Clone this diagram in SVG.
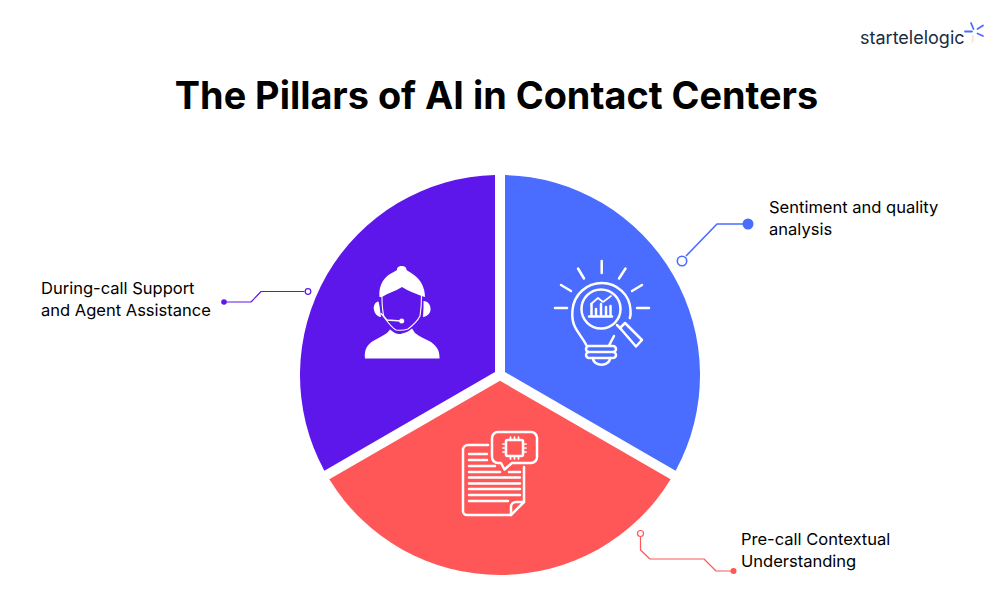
<svg xmlns="http://www.w3.org/2000/svg" width="1000" height="600" viewBox="0 0 1000 600">
<style>
text{font-family:Inter,"Liberation Sans",sans-serif;fill:#000}
.label{font-size:16.520px;font-weight:400}
.ic{fill:none;stroke:#fff;stroke-width:2.500;stroke-linecap:round;stroke-linejoin:round}
.w{fill:#fff;stroke:none}
.conn{fill:none;stroke-linejoin:round}
</style>
<rect width="1000" height="600" fill="#fff"/>
<g id="logo">
<text x="860" y="43.500" font-size="18" style="fill:#1b2b40;font-weight:400">startelelogic</text>
<path d="M971 23l2.500 6M983 25.500l-5.500 3.500M983 36l-5.500-2.500M965 31.500h7" stroke="#4a6cff" stroke-width="1.800" stroke-linecap="round" fill="none"/>
<path d="M973 36l-.5 6" stroke="#fbe3cf" stroke-width="1.800" stroke-linecap="round" fill="none"/>
</g>
<text id="title" x="496.500" y="109" font-size="37.850" font-weight="700" text-anchor="middle">The Pillars of AI in Contact Centers</text>
<g id="pillar-during-call">
<path d="M495 175.060V372.100L324.350 470.640A200 200 0 0 1 495 175.060Z" fill="#5e17eb"/>
<g>
<path class="w" d="M379.500 297C378.500 288 382 279 390 274C392.500 272.500 395 271.500 397 270C397 267 399 266 401.700 266C404.500 266 406.500 267 406.500 270C409 272 412 273 414 275C421 280 425 288 425 297L421.500 296C415 293 408 291 402 287C396 291 388 293 382 297Z"/>
<path class="ic" style="stroke-width:1.100" d="M382 297C382 305 383 313 384 317C389 324 394 329 396 330C400 330.500 404 330.500 408 329C412 326 417 322 420 316C421 310 421.500 303 421.500 296"/>
<path class="w" d="M378.500 301.500C375 302 373 306 374 310C375 314 377 316.500 381 317L379.500 306ZM423.500 301C428 301 431 305 430.500 310C430 314 427 316.500 423 317L423.500 308Z"/>
<path class="ic" style="stroke-width:1.300" d="M381 313.500L387 320L401 321"/>
<circle class="w" cx="401.700" cy="321" r="2.500"/>
<path class="w" d="M365 358.500C364 350 367 345 373 341C378 338 383 336 387 333L390 329.500C394 333 398 335 402 333.500C406 333 409 331 412 328.500L415 333C420 337 426 339 431 342C436 346 440 350 439.500 358.500Z"/>
</g>
</g>
<g id="pillar-sentiment">
<path d="M505 175.060A200 200 0 0 1 675.650 470.640L505 372.100Z" fill="#4a6cff"/>
<g class="ic">
<path d="M601.700 261V273M578 268.500L584 278.500M561 285L571 291M555 308H567M625.500 268.500L619 278.500M642 285L632 291M637 308H649"/>
<path d="M586.500 345.500C584 340 578 333 575 327C572 321 572 315 572.500 310C574 294 587 283 602 283C617 283 630 295 630.500 310C630.800 313 630.500 316 629.800 318"/>
<path d="M614 336L609 345.500"/>
<circle cx="601" cy="309" r="19.500"/>
<path d="M617 325L621 329"/>
<path d="M620 328L625 323L642 340L636 346.500Z"/>
<path d="M589 346H613A3 3 0 0 1 613 352H589A3 3 0 0 1 589 346ZM589 352H613A3 3 0 0 1 613 358H589A3 3 0 0 1 589 352Z"/>
<path d="M593 358C593 367 610 367 610 358"/>
<path d="M591.500 316V304M596 316V309M601 316V304M606 316V307M610.500 316V306M589 316.500H612"/>
<path style="stroke-width:1.700" d="M591 304L598 298L603 302L611 296"/>
</g>
</g>
<g id="pillar-precall">
<path d="M500 380.770L670.650 479.300A200 200 0 0 1 329.350 479.300Z" fill="#ff5757"/>
<g class="ic">
<path d="M488 445H468A5 5 0 0 0 463 450V511A4 4 0 0 0 467 515H511L524 502V467"/>
<path d="M511 515V507A5 5 0 0 1 516 502H524"/>
<path d="M469 454H487M469 460H487M469 466H495M469 472H500M509 472H520M469 477.500H520M469 483.500H520M469 489H520M469 495H520M469 501H508"/>
<path d="M498 432H531A6 6 0 0 1 537 438V457A6 6 0 0 1 531 463H512L504.500 469.500L501 463H498A6 6 0 0 1 492 457V438A6 6 0 0 1 498 432Z"/>
<rect x="506" y="440" width="17" height="16" rx="1.500"/>
<path style="stroke-width:1.700" d="M510.500 437V440M514.500 437V440M518.500 437V440M510.500 456V459M514.500 456V459M518.500 456V459M503 444H506M503 448H506M503 452H506M523 444H526M523 448H526M523 452H526"/>
</g>
</g>
<g id="connectors" class="conn">
<path d="M686 256L717 224H748" stroke="#4a6cff" stroke-width="1.600"/>
<circle cx="682" cy="261" r="4.700" fill="#fff" stroke="#4a6cff" stroke-width="1.600"/>
<circle cx="748" cy="224" r="5.500" fill="#4a6cff"/>
<path d="M224 302H251L261 291.500H304.500" stroke="#5e17eb" stroke-width="1.200"/>
<circle cx="308" cy="291.500" r="2.800" fill="#fff" stroke="#5e17eb" stroke-width="1.200"/>
<circle cx="224" cy="302" r="2.800" fill="#5e17eb"/>
<path d="M640.500 537V550L650 559H704L716 571H733" stroke="#ff5757" stroke-width="1.200"/>
<circle cx="640.500" cy="533.500" r="3" fill="#fff" stroke="#ff5757" stroke-width="1.200"/>
<circle cx="733.500" cy="571" r="3" fill="#ff5757"/>
</g>
<g id="label-sentiment"><text class="label" x="769" y="213">Sentiment and quality</text><text class="label" x="769" y="235">analysis</text></g>
<g id="label-during-call"><text class="label" x="41" y="294">During-call Support</text><text class="label" x="41" y="316">and Agent Assistance</text></g>
<g id="label-precall"><text class="label" x="741" y="545">Pre-call Contextual</text><text class="label" x="741" y="567">Understanding</text></g>
</svg>
